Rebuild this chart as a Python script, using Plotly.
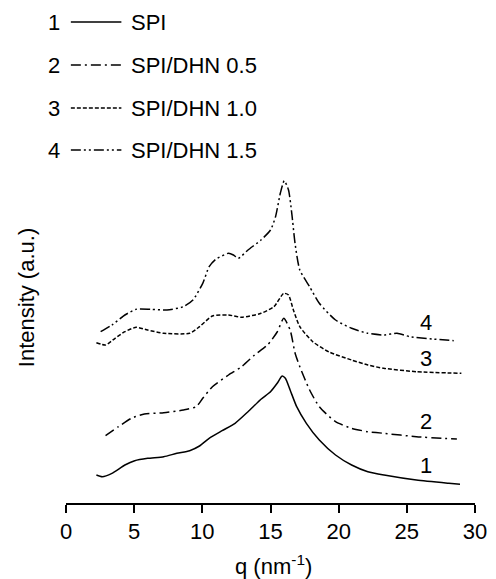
import plotly.graph_objects as go

# ---- data ----
q1 = [2.23, 2.66, 3.37, 4.32, 5.04, 5.99, 7.17, 8.13, 9.07, 9.79, 10.5, 11.45, 12.4, 13.35, 14.3, 15.0, 15.49, 15.85,
      16.09, 16.44, 16.92, 17.63, 18.58, 19.77, 20.95, 22.14, 23.33, 25.7, 28.08, 28.9]
i1 = [28, 26.3, 29.7, 38, 42.3, 44.7, 46.3, 49.7, 52.3, 57, 64.7, 72.3, 79.7, 91.3, 103.7, 111.3, 119.7, 127,
      124.7, 113, 96.3, 79.7, 63, 48, 38, 31.3, 28, 23, 19.7, 18.7]

q2 = [2.9, 3.85, 4.8, 5.75, 7.17, 8.6, 9.55, 10.03, 10.74, 11.92, 12.88, 13.83, 14.78, 15.49, 15.97,
      16.44, 16.8, 17.15, 17.87, 18.58, 19.77, 20.95, 22.14, 23.3, 25.7, 28.67]
i2 = [67.3, 76.3, 84.7, 89, 90.3, 93, 96.3, 104.7, 116.3, 128, 136.3, 148, 158, 171, 184.7,
      173, 150, 136.3, 113, 96.3, 81.3, 74.7, 71.3, 69.7, 66.3, 64]

q3 = [2.23, 2.9, 3.6, 4.32, 5.15, 5.99, 7.17, 9.07, 9.79, 10.74, 11.92, 12.88, 14.3, 15.25, 15.97,
      16.32, 16.68, 17.15, 18.1, 19.3, 20.95, 22.14, 23.3, 25.7, 29.0]
i3 = [160.3, 158, 164.7, 171.3, 175.7, 173, 169.7, 169.7, 176.3, 187, 188, 185.7, 189.7, 196.3, 209.7,
      208, 193, 176.3, 161.3, 151, 143, 138, 134.7, 131.3, 129.7]

q4 = [2.54, 3.37, 4.32, 5.15, 6.22, 7.41, 8.6, 9.31, 10.03, 10.5, 10.98, 11.92, 12.28, 12.64, 13.35, 14.3,
      15.0, 15.37, 15.72, 16.01, 16.32, 16.56, 16.8, 17.15, 17.87, 18.58, 19.77, 20.95, 22.14, 23.33,
      24.28, 25.23, 26.9, 28.44]
i4 = [171.3, 178, 188, 193.7, 193.7, 193, 196.3, 203, 219.7, 236.3, 243.7, 249.7, 248, 244.7, 253, 263,
      273, 286.3, 309.7, 322.3, 313, 289.7, 259.7, 233, 216.3, 199.7, 183, 174.7, 169.7, 168,
      169.7, 166.3, 164, 162.3]

series_names = ["SPI", "SPI/DHN 0.5", "SPI/DHN 1.0", "SPI/DHN 1.5"]
series_nums = ["1", "2", "3", "4"]
x_ticks = [0, 5, 10, 15, 20, 25, 30]

dashes = ["solid", "10px,4px,2px,4px", "4px,2px", "10px,3px,2px,3px,2px,3px"]
qs = [q1, q2, q3, q4]
ints = [i1, i2, i3, i4]

FONT = "Liberation Sans, Arial, sans-serif"
FS = 22

fig = go.Figure()
for q, inten, d, n in zip(qs, ints, dashes, series_names):
    fig.add_trace(go.Scatter(x=q, y=inten, mode="lines", name=n,
                             line=dict(color="black", width=1.5, dash=d, shape="spline", smoothing=0.6),
                             showlegend=False))

W, H = 496, 579
ml, mr, mt, mb = 66, 9, 10, 76
pw, ph = W - ml - mr, H - mt - mb


def px(x):
    return (x - ml) / pw


def py(y):
    return (H - mb - y) / ph


shapes = []
annotations = []
rows_y = [22, 65, 108, 150]
for k, (yy, d, name, num) in enumerate(zip(rows_y, dashes, series_names, series_nums)):
    shapes.append(dict(type="line", xref="paper", yref="paper", x0=px(71), x1=px(123), y0=py(yy), y1=py(yy),
                       line=dict(color="black", width=1.5, dash=d)))
    annotations.append(dict(xref="paper", yref="paper", x=px(62), y=py(yy), text=num, showarrow=False,
                            xanchor="right", yanchor="middle", font=dict(size=FS, color="black", family=FONT)))
    annotations.append(dict(xref="paper", yref="paper", x=px(131), y=py(yy), text=name, showarrow=False,
                            xanchor="left", yanchor="middle", font=dict(size=FS, color="black", family=FONT)))

# curve labels
label_y = [465, 421.7, 358.3, 322.7]
for num, yy in zip(series_nums, label_y):
    annotations.append(dict(xref="paper", yref="paper", x=px(437), y=py(yy), text=num, showarrow=False,
                            xanchor="center", yanchor="middle", font=dict(size=FS, color="black", family=FONT)))

annotations.append(dict(xref="paper", yref="paper", x=px(25), y=py(298), text="Intensity (a.u.)", textangle=-90,
                        showarrow=False, xanchor="center", yanchor="middle",
                        font=dict(size=FS, color="black", family=FONT)))
annotations.append(dict(xref="paper", yref="paper", x=px(280), y=py(565), text="q (nm<sup>-1</sup>)",
                        showarrow=False, xanchor="center", yanchor="middle",
                        font=dict(size=FS, color="black", family=FONT)))

fig.update_layout(
    width=W, height=H,
    margin=dict(l=ml, r=mr, t=mt, b=mb),
    paper_bgcolor="white", plot_bgcolor="white",
    font=dict(family=FONT, color="black", size=FS),
    shapes=shapes, annotations=annotations,
    xaxis=dict(range=[0, 30], tickvals=x_ticks, ticktext=[str(t) for t in x_ticks],
               showline=True, linecolor="black", linewidth=1.5, ticks="outside", ticklen=8,
               tickwidth=1.5, tickcolor="black", showgrid=False, zeroline=False,
               ticklabeloverflow="allow",
               tickfont=dict(size=FS, family=FONT, color="black")),
    yaxis=dict(range=[0, ph], showline=False, showticklabels=False, ticks="", showgrid=False, zeroline=False),
)

fig.write_html("out.html")
